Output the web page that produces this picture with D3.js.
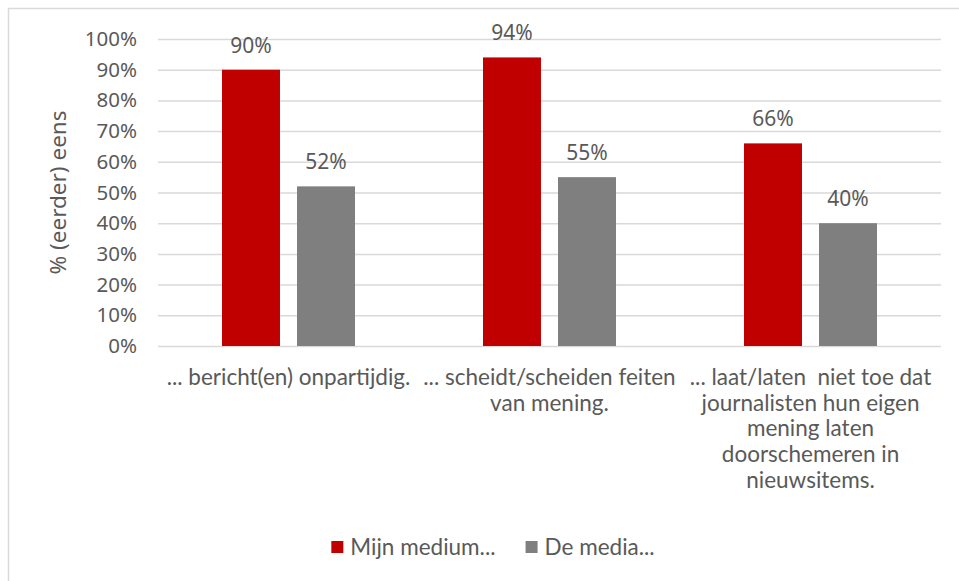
<!DOCTYPE html>
<html>
<head>
    <meta charset="utf-8">
    <title>Mijn medium vs De media</title>
    <script src="https://d3js.org/d3.v7.min.js"></script>
    <style>
        body { margin: 0; background: #fff; }
        text { fill: #595959; }
        .tick text { font-family: "Noto Sans", sans-serif; font-size: 20.5px; fill: #595959; }
    </style>
</head>
<body>
    <svg id="chart"></svg>

    <script>
        // Data values
        const categories = [
            ['... bericht(en) onpartijdig.'],
            ['... scheidt/scheiden feiten', 'van mening.'],
            ['... laat/laten  niet toe dat', 'journalisten hun eigen', 'mening laten', 'doorschemeren in', 'nieuwsitems.']
        ];
        const seriesNames = ['Mijn medium...', 'De media...'];
        const mijnMedium = [0.90, 0.94, 0.66];
        const deMedia = [0.52, 0.55, 0.40];
        const yTicks = [0, 0.1, 0.2, 0.3, 0.4, 0.5, 0.6, 0.7, 0.8, 0.9, 1.0];
        const yTitle = '% (eerder) eens';

        const colors = ['#C00000', '#7F7F7F'];
        const data = categories.map((c, i) => ({ idx: i, values: [mijnMedium[i], deMedia[i]] }));

        // Chart dimensions
        const width = 959;
        const height = 581;
        const margin = { top: 39, right: 18, bottom: 235, left: 158 };
        const plotW = width - margin.left - margin.right;
        const plotH = height - margin.top - margin.bottom;

        const svg = d3.select('#chart')
            .attr('width', width)
            .attr('height', height);

        // outer frame (only top and left edge visible)
        svg.append('path')
            .attr('d', `M8.5,${height} V8.5 H${width}`)
            .attr('fill', 'none')
            .attr('stroke', '#d9d9d9')
            .attr('stroke-width', 1.5);

        const g = svg.append('g').attr('transform', `translate(${margin.left},${margin.top})`);

        // Scales
        const x0 = d3.scaleBand()
            .domain(data.map(d => d.idx))
            .range([0, plotW]);

        const x1 = d3.scaleBand()
            .domain([0, 1])
            .range([0, x0.bandwidth()])
            .paddingInner(0.227)
            .paddingOuter(0.853);

        const y = d3.scaleLinear()
            .domain([0, 1])
            .range([plotH, 0]);

        // Gridlines
        g.append('g')
            .call(d3.axisLeft(y).tickValues(yTicks).tickSize(-plotW).tickFormat(''))
            .call(a => a.select('.domain').remove())
            .call(a => a.selectAll('.tick line').attr('stroke', '#d9d9d9').attr('stroke-width', 1.5));

        // Y axis labels
        g.append('g')
            .call(d3.axisLeft(y).tickValues(yTicks).tickSize(0).tickPadding(21).tickFormat(d3.format('.0%')))
            .call(a => a.select('.domain').remove());

        // Y axis title
        svg.append('text')
            .attr('transform', `translate(66,${margin.top + plotH / 2}) rotate(-90)`)
            .attr('text-anchor', 'middle')
            .style('font-family', '"Noto Sans", sans-serif')
            .style('font-size', '22.5px')
            .text(yTitle);

        // Bars
        const groups = g.selectAll('.grp')
            .data(data)
            .enter()
            .append('g')
            .attr('class', 'grp')
            .attr('transform', d => `translate(${x0(d.idx)},0)`);

        groups.selectAll('rect')
            .data(d => d.values.map((v, s) => ({ v, s })))
            .enter()
            .append('rect')
            .attr('x', d => x1(d.s))
            .attr('y', d => y(d.v))
            .attr('width', x1.bandwidth())
            .attr('height', d => plotH - y(d.v))
            .attr('fill', d => colors[d.s]);

        // Value labels
        groups.selectAll('.val')
            .data(d => d.values.map((v, s) => ({ v, s })))
            .enter()
            .append('text')
            .attr('class', 'val')
            .attr('x', d => x1(d.s) + x1.bandwidth() / 2)
            .attr('y', d => y(d.v) - 17)
            .attr('text-anchor', 'middle')
            .style('font-family', '"Noto Sans", sans-serif')
            .style('font-size', '21px')
            .text(d => d3.format('.0%')(d.v));

        // Category labels
        g.selectAll('.cat')
            .data(data)
            .enter()
            .append('text')
            .attr('class', 'cat')
            .attr('x', d => x0(d.idx) + x0.bandwidth() / 2)
            .attr('y', plotH + 39)
            .attr('text-anchor', 'middle')
            .style('font-family', 'Lato, sans-serif')
            .style('font-size', '22.5px')
            .style('white-space', 'pre')
            .selectAll('tspan')
            .data(d => categories[d.idx])
            .enter()
            .append('tspan')
            .attr('x', function () { return d3.select(this.parentNode).attr('x'); })
            .attr('dy', (d, i) => i === 0 ? 0 : 25.7)
            .text(d => d);

        // Legend
        const legend = svg.append('g');
        let lx = 0;
        seriesNames.forEach((name, i) => {
            const item = legend.append('g').attr('transform', `translate(${lx},0)`);
            item.append('rect')
                .attr('x', 0).attr('y', -6)
                .attr('width', 12).attr('height', 12)
                .attr('fill', colors[i]);
            const t = item.append('text')
                .attr('x', 19).attr('y', 8)
                .style('font-family', 'Lato, sans-serif')
                .style('font-size', '22.5px')
                .text(name);
            lx += 19 + t.node().getComputedTextLength() + 30;
        });
        const lw = lx - 30;
        legend.attr('transform', `translate(${493 - lw / 2},547)`);
    </script>
</body>
</html>
